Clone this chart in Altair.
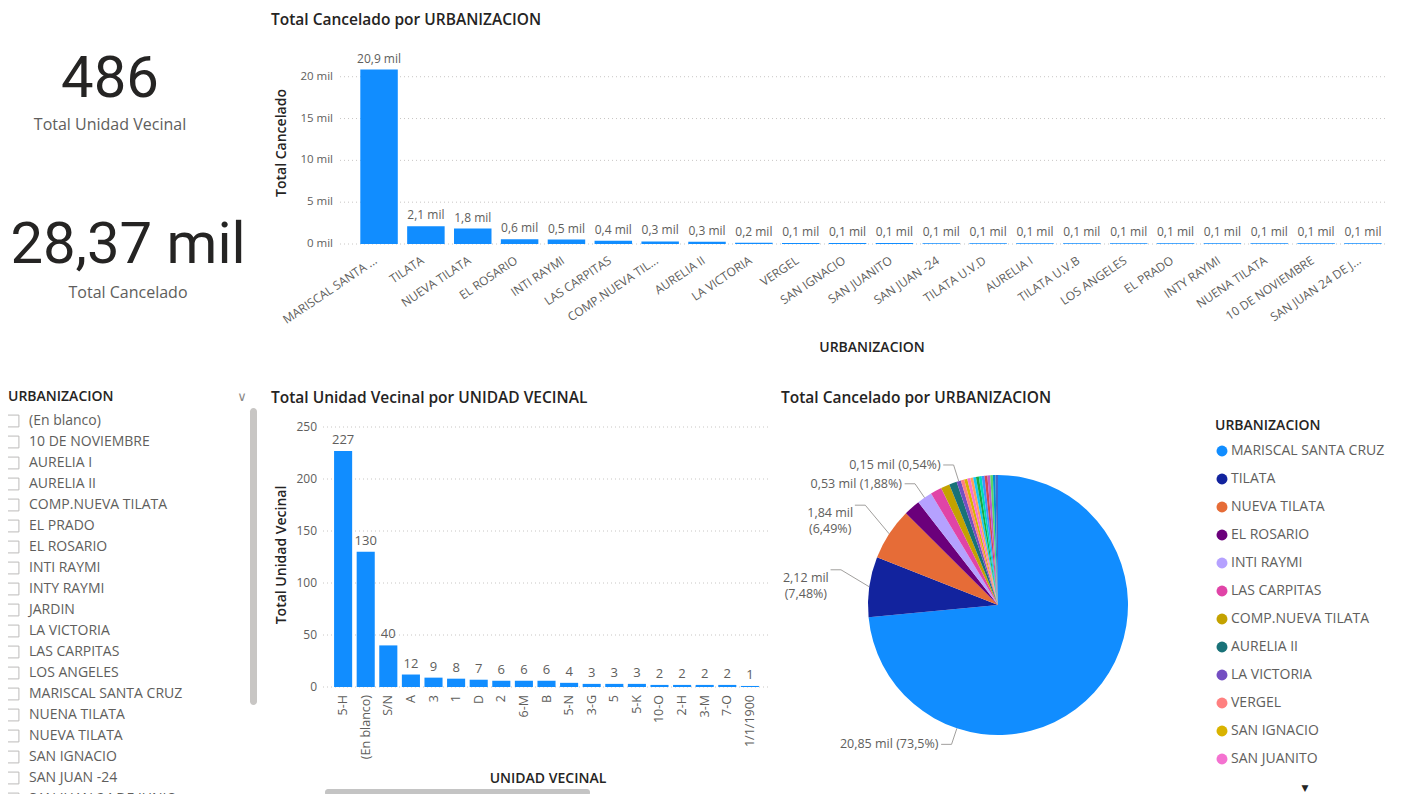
import math
import altair as alt
import pandas as pd

# ---------------- data ----------------
kpi_values = ["486", "28,37 mil"]
kpi_labels = ["Total Unidad Vecinal", "Total Cancelado"]

urbanizaciones = ["MARISCAL SANTA CRUZ", "TILATA", "NUEVA TILATA", "EL ROSARIO", "INTI RAYMI",
                  "LAS CARPITAS", "COMP.NUEVA TILATA", "AURELIA II", "LA VICTORIA", "VERGEL",
                  "SAN IGNACIO", "SAN JUANITO", "SAN JUAN -24", "TILATA U.V.D", "AURELIA I",
                  "TILATA U.V.B", "LOS ANGELES", "EL PRADO", "INTY RAYMI", "NUENA TILATA",
                  "10 DE NOVIEMBRE", "SAN JUAN 24 DE JUNIO"]
urb_tick_labels = ["MARISCAL SANTA ...", "TILATA", "NUEVA TILATA", "EL ROSARIO", "INTI RAYMI",
                   "LAS CARPITAS", "COMP.NUEVA TIL...", "AURELIA II", "LA VICTORIA", "VERGEL",
                   "SAN IGNACIO", "SAN JUANITO", "SAN JUAN -24", "TILATA U.V.D", "AURELIA I",
                   "TILATA U.V.B", "LOS ANGELES", "EL PRADO", "INTY RAYMI", "NUENA TILATA",
                   "10 DE NOVIEMBRE", "SAN JUAN 24 DE J..."]
total_cancelado_mil = [20.85, 2.122, 1.84, 0.58, 0.534, 0.40, 0.31, 0.27, 0.153, 0.12, 0.11,
                       0.11, 0.10, 0.10, 0.10, 0.10, 0.10, 0.10, 0.10, 0.09, 0.09, 0.09]
urb_colors = ["#118DFF", "#12239E", "#E66C37", "#6B007B", "#B5A1FF", "#E044A7", "#C4A200",
              "#197278", "#744EC2", "#FF8080", "#D9B300", "#F472D0", "#FFA058", "#15C6F4",
              "#1AAB40", "#00DBBC", "#4092FF", "#D64550", "#BE5DC9", "#5BD667", "#0091D5",
              "#4668C5"]
legend_items = urbanizaciones[:12]
pie_labelled = ["MARISCAL SANTA CRUZ", "TILATA", "NUEVA TILATA", "INTI RAYMI", "LA VICTORIA"]
pie_two_line = ["TILATA", "NUEVA TILATA"]

unidades = ["5-H", "(En blanco)", "S/N", "A", "3", "1", "D", "2", "6-M", "B", "5-N", "3-G",
            "5", "5-K", "10-O", "2-H", "3-M", "7-O", "1/1/1900"]
total_unidad = [227, 130, 40, 12, 9, 8, 7, 6, 6, 6, 4, 3, 3, 3, 2, 2, 2, 2, 1]

slicer_items = ["(En blanco)", "10 DE NOVIEMBRE", "AURELIA I", "AURELIA II", "COMP.NUEVA TILATA",
                "EL PRADO", "EL ROSARIO", "INTI RAYMI", "INTY RAYMI", "JARDIN", "LA VICTORIA",
                "LAS CARPITAS", "LOS ANGELES", "MARISCAL SANTA CRUZ", "NUENA TILATA",
                "NUEVA TILATA", "SAN IGNACIO", "SAN JUAN -24", "SAN JUAN 24 DE JUNIO"]

top_y_ticks = [0, 5, 10, 15, 20]
bottom_y_ticks = [0, 50, 100, 150, 200, 250]

# ---------------- styling ----------------
W, H = 1394, 786
def S(v):
    return v - 8

NUM_FONT = "Roboto"
TITLE_FONT = "Open Sans"
LABEL_FONT = "Open Sans"
DARK = "#252423"
GREY = "#605E5C"
BLUE = "#118DFF"

# ---------------- tables ----------------
urb_df = pd.DataFrame({"urb": urbanizaciones, "tick": urb_tick_labels,
                       "v": total_cancelado_mil, "rank": list(range(len(urbanizaciones)))})
uv_df = pd.DataFrame({"uv": unidades, "n": total_unidad})
top_ticks_df = pd.DataFrame({"t": top_y_ticks})
bot_ticks_df = pd.DataFrame({"t": bottom_y_ticks})
slicer_df = pd.DataFrame({"item": slicer_items})

# pie label geometry derived from the slice values
total = sum(total_cancelado_mil)
cum = 0.0
lab_rows, line_rows = [], []
for name, v in zip(urbanizaciones, total_cancelado_mil):
    start = cum / total
    cum += v
    end = cum / total
    if name in pie_labelled:
        frac = 0.75 if name == urbanizaciones[0] else 0.5
        a = 2 * math.pi * (start + frac * (end - start))
        ax, ay = math.sin(a), math.cos(a)
        two = name in pie_two_line
        rr = 1.22 if two else 1.13
        ex, ey = rr * ax, rr * ay + (0.1 if two else 0.0)
        hx = ex - 0.08
        for k, (px, py) in enumerate([(ax, ay), (ex, ey), (hx, ey)]):
            line_rows.append({"slice": name, "pt": k, "px": px, "py": py})
        val = f"{v:.2f}".replace(".", ",") + " mil"
        pct = f"{100 * v / total:.2f}".rstrip("0").rstrip(".").replace(".", ",") + "%"
        lab_rows.append({"slice": name, "two": two,
                         "txt": (val + "\n(" + pct + ")") if two else (val + " (" + pct + ")"),
                         "px": (hx - 0.02 - 0.17) if two else (hx - 0.02),
                         "py": (ey - 0.06) if two else ey})
pie_lines_df = pd.DataFrame(line_rows)
pie_labels_df = pd.DataFrame(lab_rows)
pie_df = urb_df.assign(c0=0.0)

# ---------------- scales ----------------
top_x = alt.Scale(type="band", domain=urbanizaciones, range=[S(350), S(1392)],
                  paddingInner=0.2, paddingOuter=0.22)
top_y = alt.Scale(domain=[0, 22], range=[S(244), S(60)], nice=False, zero=True)
bot_x = alt.Scale(type="band", domain=unidades, range=[S(323), S(770)],
                  paddingInner=0.2, paddingOuter=0.49)
bot_y = alt.Scale(domain=[0, 250], range=[S(687), S(427)], nice=False)
pie_x = alt.Scale(domain=[-1, 1], range=[S(868), S(1128)], nice=False, zero=False)
pie_y = alt.Scale(domain=[-1, 1], range=[S(735), S(475)], nice=False, zero=False)
sl_y = alt.Scale(type="point", domain=slicer_items, range=[S(421), S(421 + 21 * 18)], padding=0)

def txt(text, x, y, size=13, weight="normal", color=DARK, font=LABEL_FONT, align="left", angle=0):
    kw = dict(text=text, fontSize=size, fontWeight=weight, color=color, font=font,
              align=align, baseline="middle")
    if angle:
        kw["angle"] = angle
    return alt.Chart(pd.DataFrame({"a": [0]})).mark_text(**kw).encode(
        x=alt.value(S(x)), y=alt.value(S(y)))

layers = []

# ---- KPI cards ----
layers += [
    txt(kpi_values[0], 110, 80, size=58, color=DARK, font=NUM_FONT, align="center"),
    txt(kpi_labels[0], 110, 125, size=16, color=GREY, align="center"),
    txt(kpi_values[1], 128, 246, size=58, color=DARK, font=NUM_FONT, align="center"),
    txt(kpi_labels[1], 128, 293, size=16, color=GREY, align="center"),
]

# ---- top bar chart ----
layers += [
    txt("Total Cancelado por URBANIZACION", 271, 20, size=15.5, weight=600, font=TITLE_FONT),
    txt("Total Cancelado", 282, 143, size=14, weight=600, font=TITLE_FONT, align="center", angle=270),
    txt("URBANIZACION", 872, 348, size=14, weight=600, font=TITLE_FONT, align="center"),
    alt.Chart(top_ticks_df).mark_rule(color="#C8C6C4", strokeDash=[1, 3], strokeWidth=1).encode(
        y=alt.Y("t:Q", scale=top_y, axis=None), x=alt.value(S(340)), x2=alt.value(S(1385))),
    alt.Chart(top_ticks_df).transform_calculate(lbl="datum.t + ' mil'").mark_text(
        align="right", baseline="middle", fontSize=11.5, color=GREY, font=LABEL_FONT).encode(
        y=alt.Y("t:Q", scale=top_y, axis=None), x=alt.value(S(333)), text="lbl:N"),
    alt.Chart(urb_df).mark_bar(color=BLUE).encode(
        x=alt.X("urb:N", scale=top_x, axis=None, sort=None),
        y=alt.Y("v:Q", scale=top_y, axis=None)),
    alt.Chart(urb_df).transform_calculate(
        lbl="replace(format(datum.v, '.1f'), '.', ',') + ' mil'").mark_text(
        baseline="bottom", dy=-4, fontSize=12, color=GREY, font=LABEL_FONT).encode(
        x=alt.X("urb:N", scale=top_x, axis=None, sort=None),
        y=alt.Y("v:Q", scale=top_y, axis=None), text="lbl:N"),
    alt.Chart(urb_df).mark_text(angle=326, align="right", baseline="middle", dx=-4,
                                fontSize=12, color=GREY, font=LABEL_FONT).encode(
        x=alt.X("urb:N", scale=top_x, axis=None, sort=None),
        y=alt.value(S(257)), text="tick:N"),
]

# ---- bottom bar chart ----
layers += [
    txt("Total Unidad Vecinal por UNIDAD VECINAL", 271, 398, size=15.5, weight=600, font=TITLE_FONT),
    txt("Total Unidad Vecinal", 282, 555, size=14, weight=600, font=TITLE_FONT, align="center", angle=270),
    txt("UNIDAD VECINAL", 548, 779, size=14, weight=600, font=TITLE_FONT, align="center"),
    alt.Chart(bot_ticks_df).mark_rule(color="#C8C6C4", strokeDash=[1, 3], strokeWidth=1).encode(
        y=alt.Y("t:Q", scale=bot_y, axis=None), x=alt.value(S(323)), x2=alt.value(S(770))),
    alt.Chart(bot_ticks_df).mark_text(align="right", baseline="middle", fontSize=12,
                                      color=GREY, font=LABEL_FONT).encode(
        y=alt.Y("t:Q", scale=bot_y, axis=None), x=alt.value(S(317)), text="t:N"),
    alt.Chart(uv_df).mark_bar(color=BLUE).encode(
        x=alt.X("uv:N", scale=bot_x, axis=None, sort=None),
        y=alt.Y("n:Q", scale=bot_y, axis=None)),
    alt.Chart(uv_df).mark_text(baseline="bottom", dy=-4, fontSize=13, color=GREY,
                               font=LABEL_FONT).encode(
        x=alt.X("uv:N", scale=bot_x, axis=None, sort=None),
        y=alt.Y("n:Q", scale=bot_y, axis=None), text="n:N"),
    alt.Chart(uv_df).mark_text(angle=270, align="right", baseline="middle",
                               fontSize=12.5, color=GREY, font=LABEL_FONT).encode(
        x=alt.X("uv:N", scale=bot_x, axis=None, sort=None),
        y=alt.value(S(695)), text="uv:N"),
    alt.Chart(pd.DataFrame({"a": [0]})).mark_rect(color="#C4C4C4", cornerRadius=3).encode(
        x=alt.value(S(325)), x2=alt.value(S(590)), y=alt.value(S(789)), y2=alt.value(S(796))),
]

# ---- pie chart ----
layers += [
    txt("Total Cancelado por URBANIZACION", 781, 398, size=15.5, weight=600, font=TITLE_FONT),
    alt.Chart(pie_df).mark_arc(outerRadius=130).encode(
        theta=alt.Theta("v:Q", stack=True),
        order=alt.Order("rank:Q"),
        color=alt.Color("urb:N", scale=alt.Scale(domain=urbanizaciones, range=urb_colors),
                        legend=alt.Legend(
                            orient="none", legendX=S(1215), legendY=S(419),
                            title="URBANIZACION", titleFont=TITLE_FONT, titleFontSize=14,
                            titleFontWeight=600, titleColor=DARK, titlePadding=11,
                            labelFont=LABEL_FONT, labelFontSize=14, labelColor=GREY,
                            symbolType="circle", symbolSize=120, symbolStrokeWidth=0,
                            labelOffset=2, rowPadding=14, values=legend_items, padding=0)),
        x=alt.X("c0:Q", scale=pie_x, axis=None),
        y=alt.Y("c0:Q", scale=pie_y, axis=None)),
    alt.Chart(pie_lines_df).mark_line(color="#A19F9D", strokeWidth=1).encode(
        x=alt.X("px:Q", scale=pie_x, axis=None),
        y=alt.Y("py:Q", scale=pie_y, axis=None),
        detail="slice:N", order="pt:Q"),
    alt.Chart(pie_labels_df[~pie_labels_df["two"]]).mark_text(
        align="right", baseline="middle", fontSize=12.5, color=GREY, font=LABEL_FONT).encode(
        x=alt.X("px:Q", scale=pie_x, axis=None),
        y=alt.Y("py:Q", scale=pie_y, axis=None), text="txt:N"),
    alt.Chart(pie_labels_df[pie_labels_df["two"]]).mark_text(
        align="center", baseline="middle", lineBreak="\n", lineHeight=16, fontSize=12.5,
        color=GREY, font=LABEL_FONT).encode(
        x=alt.X("px:Q", scale=pie_x, axis=None),
        y=alt.Y("py:Q", scale=pie_y, axis=None), text="txt:N"),
    txt("\u25BC", 1305, 788, size=9, color="#252423", font="DejaVu Sans", align="center"),
]

# ---- slicer ----
layers += [
    txt("URBANIZACION", 8, 397, size=14, weight=600, font=TITLE_FONT),
    txt("\u2228", 242, 397, size=13, color="#8A8886", font="DejaVu Sans", align="center"),
    alt.Chart(slicer_df).mark_square(filled=False, size=140, color="#A19F9D", strokeWidth=1,
                                     clip=True).encode(
        x=alt.value(S(13)), y=alt.Y("item:N", scale=sl_y, axis=None, sort=None)),
    alt.Chart(slicer_df).mark_text(align="left", baseline="middle", fontSize=14, color=GREY,
                                   font=LABEL_FONT, clip=True).encode(
        x=alt.value(S(29)), y=alt.Y("item:N", scale=sl_y, axis=None, sort=None), text="item:N"),
    alt.Chart(pd.DataFrame({"a": [0]})).mark_rect(color="#C8C6C4", cornerRadius=4).encode(
        x=alt.value(S(250)), x2=alt.value(S(257)), y=alt.value(S(408)), y2=alt.value(S(705))),
]

chart = alt.layer(*layers).resolve_scale(
    x="independent", y="independent", color="independent"
).properties(
    width=W, height=H, padding=0, autosize=alt.AutoSizeParams(type="none"),
    background="white"
).configure_view(stroke=None)

chart.save("out.html", embed_options={"renderer": "svg", "actions": False})
